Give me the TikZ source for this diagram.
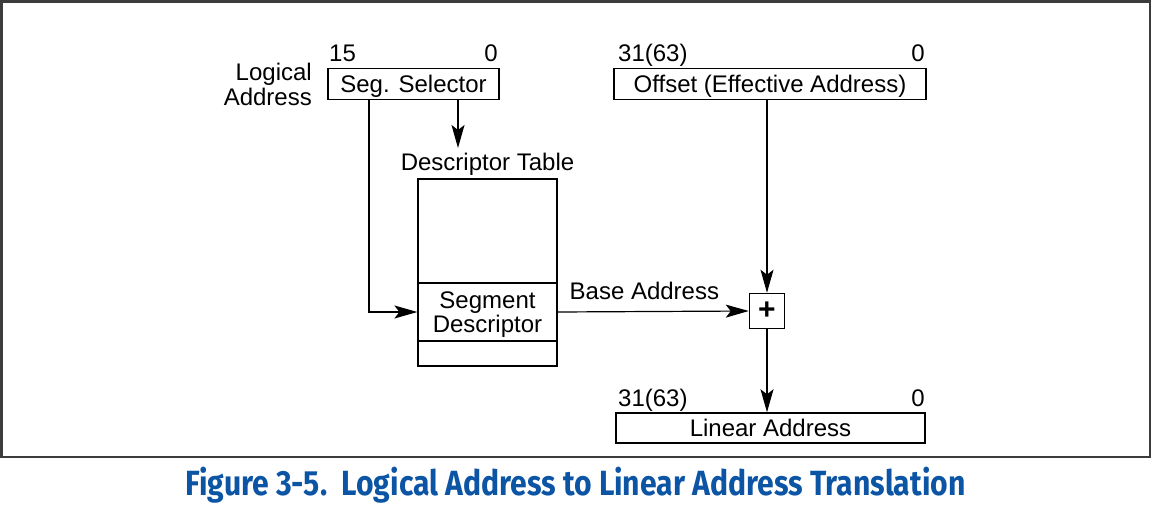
\documentclass[tikz,border=0pt]{standalone}
\usepackage{fontspec}
\usepackage{graphicx}
\setmainfont{Liberation Sans}
\newfontfamily\capfont{Fira Sans}
\usetikzlibrary{arrows.meta,calc}
\definecolor{capblue}{RGB}{12,84,164}
\definecolor{framegray}{RGB}{60,60,60}
\begin{document}
\begin{tikzpicture}[x=1pt,y=-1pt,
  every node/.style={font=\fontsize{24}{22}\selectfont, inner sep=0pt},
  box/.style={draw, line width=1.5pt, text height=17pt, text depth=0pt, minimum height=31pt},
  arr/.style={line width=1.2pt, -{Stealth[length=23pt,width=13pt,inset=5pt]}},
  ln/.style={line width=1.2pt}]
\useasboundingbox (0,0) rectangle (1154,508);
\draw[framegray, line width=2.5pt] (1.5,1.5) rectangle (1150,457);

% top boxes
\node[box, minimum width=171pt] (sel) at (413.5,84) {Seg. Selector};
\node[box, minimum width=312pt] (off) at (770,84) {Offset (Effective Address)};
\node[anchor=base west] (s15) at (329,62) {15};
\node[anchor=base east] (s0) at (498,62) {0};
\node[anchor=base west] (o31) at (618,62) {31(63)};
\node[anchor=base east] (o0) at (925,62) {0};
\node[anchor=north east, align=right, font=\fontsize{24}{24.5}\selectfont] (la) at (312,63) {Logical\\Address};

% descriptor table
\node[draw, line width=1.5pt, minimum width=139pt, minimum height=187pt] (tbl) at (487.5,272.5) {};
\node[anchor=base] (dtl) at (487.5,171) {Descriptor Table};
\node[draw, line width=1.2pt, minimum width=139pt, minimum height=58pt, align=center, text depth=0pt] (sd) at (487.5,312) {Segment\\Descriptor};

% adder
\node[draw, line width=1.5pt, minimum width=35pt, minimum height=35pt, font=\fontsize{30}{30}\selectfont\bfseries] (plus) at (767,311) {+};

% linear address
\node[box, minimum width=309pt, minimum height=30pt] (lin) at (770.5,428) {Linear Address};
\node[anchor=base west] (l31) at (618,406) {31(63)};
\node[anchor=base east] (l0) at (925,406) {0};

% connectors
\coordinate (c1) at (458,100);
\coordinate (c1e) at (458,148);
\coordinate (c2) at (369,100);
\draw[arr] (c1) -- (c1e);
\draw[arr] (c2) |- (sd.west);
\draw[arr] (sd.east) -- (plus.west) node[pos=0.06, anchor=base west, yshift=12pt] (ba) {Base Address};
\draw[arr] (off.south -| plus) -- (plus.north);
\draw[arr] (plus.south) -- (lin.north -| plus);

% caption
\node[anchor=base, text=capblue, font=\capfont\fontsize{35}{35}\selectfont\bfseries] (cap) at (575.5,495)
  {\resizebox{780pt}{\height}{Figure 3-5.\ \ Logical Address to Linear Address Translation}};
\end{tikzpicture}
\end{document}
